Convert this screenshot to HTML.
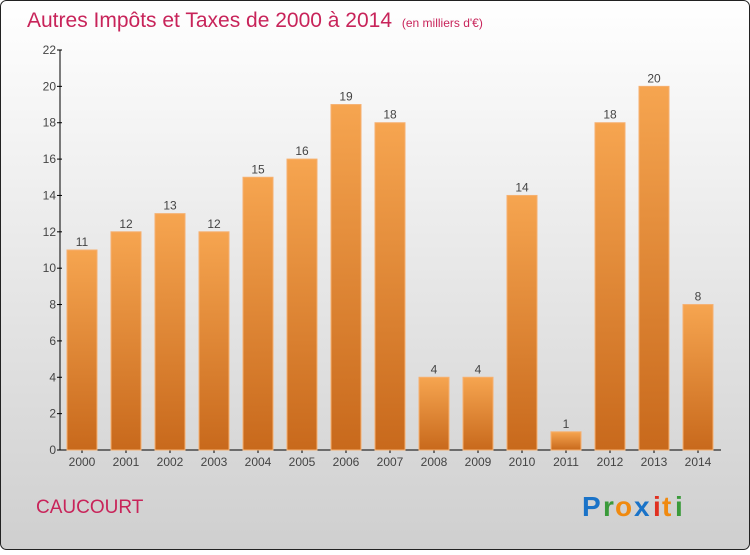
<!DOCTYPE html>
<html><head><meta charset="utf-8"><style>
body{margin:0;width:750px;height:550px;overflow:hidden;font-family:"Liberation Sans",sans-serif}
</style></head><body>
<svg id="chart" width="750" height="550" xmlns="http://www.w3.org/2000/svg">
<defs>
<linearGradient id="bg" x1="0" y1="0" x2="0" y2="1"><stop offset="0" stop-color="#ffffff"/><stop offset="1" stop-color="#cfcfcf"/></linearGradient>
<linearGradient id="bar" x1="0" y1="0" x2="0" y2="1"><stop offset="0" stop-color="#f6a550"/><stop offset="1" stop-color="#c8691c"/></linearGradient>
</defs>
<rect x="0.5" y="0.5" width="749" height="549" rx="6" fill="url(#bg)" stroke="#222"/>
<text x="27" y="27" font-size="21" fill="#c8245a">Autres Impôts et Taxes de 2000 à 2014 <tspan font-size="12" dx="4">(en milliers d'€)</tspan></text>
<g id="axes"></g><g id="bars"></g>
<text x="36" y="513" font-size="19" fill="#c8245a">CAUCOURT</text>
<g font-size="28" font-weight="bold">
<text x="582" y="516" fill="#1a73c8">P</text><text x="603" y="516" fill="#3a9a3a">r</text><text x="615" y="516" fill="#f08a10">o</text><text x="634" y="516" fill="#1a73c8">x</text><text x="653" y="516" fill="#e03020">i</text><text x="662" y="516" fill="#f08a10">t</text><text x="675" y="516" fill="#3a9a3a">i</text>
</g>
</svg>
<script>
const years=["2000","2001","2002","2003","2004","2005","2006","2007","2008","2009","2010","2011","2012","2013","2014"];
const values=[11,12,13,12,15,16,19,18,4,4,14,1,18,20,8];
const yTicks=[0,2,4,6,8,10,12,14,16,18,20,22];
const NS="http://www.w3.org/2000/svg";
const x0=60,y0=450,yMax=22,ph=400,step=44,bw=30;
const y=v=>y0-v/yMax*ph;
const xc=i=>82+i*step;
function mk(t,a,p){const e=document.createElementNS(NS,t);for(const k in a)e.setAttribute(k,a[k]);p.appendChild(e);return e;}
const ax=document.getElementById('axes'),bg=document.getElementById('bars');
let l=mk('line',{x1:x0,y1:y(yMax),x2:x0,y2:y0,stroke:'#000'},ax);


l=mk('line',{x1:x0,y1:y0,x2:721,y2:y0,stroke:'#000'},ax);


yTicks.forEach(v=>{
 mk('line',{x1:x0-3,y1:y(v),x2:x0+2,y2:y(v),stroke:'#000'},ax);
 const t=mk('text',{x:x0-4,y:y(v)+4,'font-size':12,fill:'#444','text-anchor':'end'},ax);t.textContent=v;
 
 
});
years.forEach((yr,i)=>{
 const v=values[i];
 const r=mk('rect',{x:xc(i)-bw/2,y:y(v),width:bw,height:y0-y(v),fill:'url(#bar)',stroke:'#f6b070','stroke-width':1},bg);
 
 
 const vl=mk('text',{x:xc(i),y:y(v)-4,'font-size':12,fill:'#444','text-anchor':'middle'},bg);vl.textContent=v;
 
 
 mk('line',{x1:xc(i),y1:y0,x2:xc(i),y2:y0+3,stroke:'#000'},ax);
 const t=mk('text',{x:xc(i),y:y0+16,'font-size':12,fill:'#444','text-anchor':'middle'},ax);t.textContent=yr;
 
 
});
</script>
</body></html>
